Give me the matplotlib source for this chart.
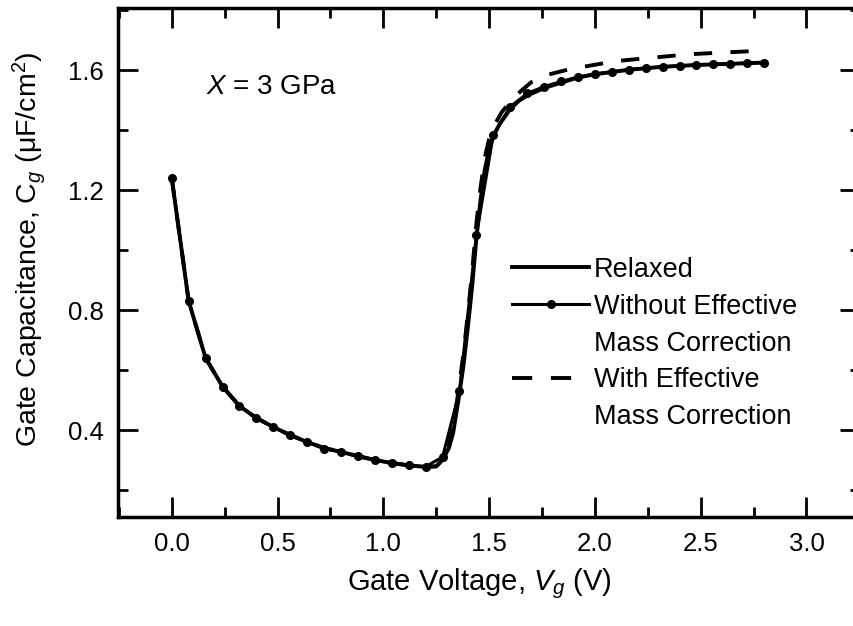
import matplotlib
matplotlib.use("Agg")
import matplotlib.pyplot as plt
from matplotlib.lines import Line2D
from matplotlib.ticker import MultipleLocator

plt.rcParams["font.family"] = ["Liberation Sans", "DejaVu Sans"]
plt.rcParams["mathtext.fontset"] = "custom"
plt.rcParams["mathtext.rm"] = "Liberation Sans"
plt.rcParams["mathtext.it"] = "Liberation Sans:italic"

# gate voltage (V) and gate capacitance (uF/cm^2)
relaxed_v = [0.00, 0.08, 0.16, 0.24, 0.32, 0.40, 0.48, 0.56, 0.64, 0.72,
             0.80, 0.88, 0.96, 1.04, 1.12, 1.20, 1.25, 1.28, 1.31, 1.33, 1.355,
             1.378, 1.40, 1.42, 1.44, 1.46, 1.48, 1.50, 1.52, 1.55, 1.60, 1.64,
             1.68, 1.76, 1.84, 1.92, 2.00, 2.16, 2.32, 2.48, 2.64, 2.80]
relaxed_c = [1.24, 0.83, 0.64, 0.545, 0.48, 0.44, 0.41, 0.383, 0.36, 0.34,
             0.327, 0.313, 0.30, 0.29, 0.282, 0.277, 0.279, 0.30, 0.34, 0.39, 0.50,
             0.61, 0.745, 0.88, 1.04, 1.17, 1.27, 1.335, 1.38, 1.42, 1.47, 1.497,
             1.515, 1.54, 1.558, 1.575, 1.586, 1.601, 1.611, 1.617, 1.621, 1.625]

without_v = [0.00, 0.08, 0.16, 0.24, 0.32, 0.40, 0.48, 0.56, 0.64, 0.72, 0.80,
             0.88, 0.96, 1.04, 1.12, 1.20, 1.28, 1.36, 1.44, 1.52, 1.60, 1.68,
             1.76, 1.84, 1.92, 2.00, 2.08, 2.16, 2.24, 2.32, 2.40, 2.48, 2.56,
             2.64, 2.72, 2.80]
without_c = [1.24, 0.83, 0.64, 0.545, 0.48, 0.44, 0.41, 0.383, 0.36, 0.338, 0.327,
             0.313, 0.30, 0.29, 0.282, 0.278, 0.31, 0.53, 1.05, 1.385, 1.478, 1.522,
             1.545, 1.562, 1.577, 1.587, 1.594, 1.601, 1.607, 1.611, 1.614, 1.617, 1.619,
             1.621, 1.623, 1.625]

with_v = [0.00, 0.08, 0.16, 0.24, 0.32, 0.40, 0.48, 0.56, 0.64, 0.72,
          0.80, 0.88, 0.96, 1.04, 1.12, 1.20, 1.25, 1.28, 1.31, 1.33, 1.355,
          1.378, 1.40, 1.42, 1.44, 1.46, 1.48, 1.50, 1.52, 1.56, 1.60, 1.65,
          1.70, 1.78, 1.88, 1.97, 2.10, 2.28, 2.45, 2.62, 2.80]
with_c = [1.24, 0.83, 0.64, 0.545, 0.48, 0.44, 0.41, 0.383, 0.36, 0.34,
          0.327, 0.313, 0.30, 0.29, 0.282, 0.277, 0.279, 0.30, 0.35, 0.41, 0.53,
          0.65, 0.79, 0.93, 1.09, 1.21, 1.31, 1.37, 1.41, 1.46, 1.495, 1.53,
          1.56, 1.585, 1.603, 1.614, 1.630, 1.642, 1.653, 1.659, 1.665]

fig = plt.figure(figsize=(8.54, 6.26), dpi=100)
# the right spine sits just past the edge of the figure
ax = fig.add_axes([118 / 854, 109 / 626, 742 / 854, 509 / 626])

ax.plot(with_v, with_c, color="black", lw=2.8, dashes=(4.7, 4.7), zorder=2)
ax.plot(relaxed_v, relaxed_c, color="black", lw=2.8, zorder=3)
ax.plot(without_v, without_c, color="black", lw=2.2, marker="o", ms=5.5, zorder=4)

ax.set_xlim(-0.254, 3.253)
ax.set_ylim(0.11, 1.807)

ax.xaxis.set_minor_locator(MultipleLocator(0.25))
ax.yaxis.set_minor_locator(MultipleLocator(0.2))
ax.set_xticks([0.0, 0.5, 1.0, 1.5, 2.0, 2.5, 3.0])
ax.set_xticklabels(["0.0", "0.5", "1.0", "1.5", "2.0", "2.5", "3.0"])
ax.set_yticks([0.4, 0.8, 1.2, 1.6])
ax.set_yticklabels(["0.4", "0.8", "1.2", "1.6"])

for s in ax.spines.values():
    s.set_linewidth(2.5)
ax.tick_params(which="both", direction="in", top=True, right=True, width=2.0,
               labelsize=18.5)
ax.tick_params(which="major", length=14.5)
ax.tick_params(which="minor", length=7)
ax.tick_params(axis="x", pad=11)
ax.tick_params(axis="y", pad=10)

ax.set_xlabel(r"Gate Voltage, $V_g$ (V)", fontsize=21)
ax.set_ylabel(r"Gate Capacitance, C$_g$ (μF/cm$^2$)", fontsize=20.5)
ax.xaxis.set_label_coords(0.487, -0.097)
ax.yaxis.set_label_coords(-0.094, 0.527)

ax.text(0.118, 0.845, r"$X$ = 3 GPa", transform=ax.transAxes, fontsize=20,
        va="center", ha="left")

handles = [
    Line2D([], [], color="black", lw=2.8),
    Line2D([], [], color="black", lw=2.2, marker="o", ms=5.5),
    Line2D([], [], color="none"),
    Line2D([], [], color="black", lw=2.8, dashes=(5.2, 4.8)),
    Line2D([], [], color="none"),
]
labels = ["Relaxed", "Without Effective", "Mass Correction",
          "With Effective", "Mass Correction"]
ax.legend(handles, labels, loc="upper left", bbox_to_anchor=(0.531, 0.511),
          frameon=False, fontsize=19.5, handlelength=2.85, handletextpad=0.17,
          labelspacing=0.4, borderpad=0, borderaxespad=0, numpoints=1)

fig.savefig("out.png", dpi=100)
